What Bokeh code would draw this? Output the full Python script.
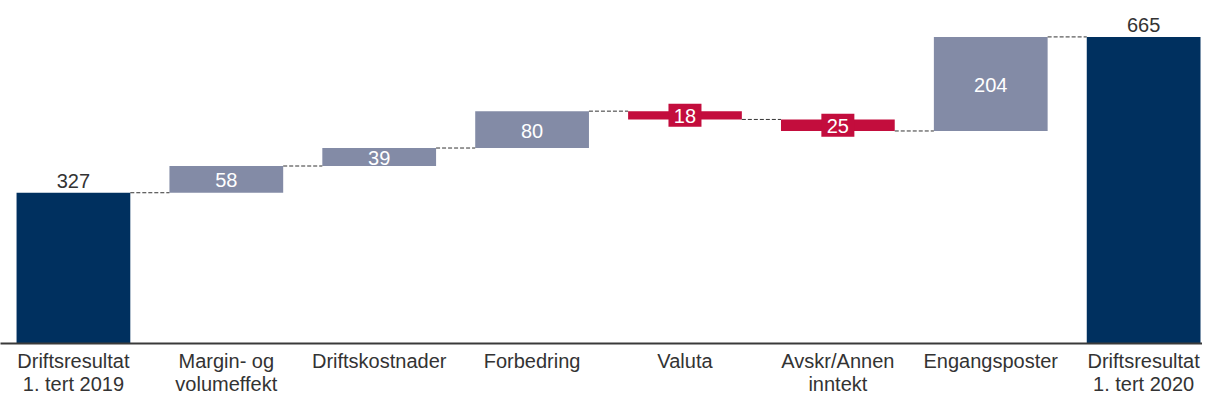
from bokeh.plotting import figure
from bokeh.models import ColumnDataSource, Range1d, FixedTicker
from bokeh.core.properties import value
from bokeh.embed import file_html
from bokeh.resources import INLINE

# ---- data ----
categories = ["Driftsresultat\n1. tert 2019", "Margin- og\nvolumeffekt", "Driftskostnader",
              "Forbedring", "Valuta", "Avskr/Annen\ninntekt", "Engangsposter",
              "Driftsresultat\n1. tert 2020"]
values = [327, 58, 39, 80, -18, -25, 204, 665]
kinds = ["total", "delta", "delta", "delta", "delta", "delta", "delta", "total"]

NAVY = "#00305f"
GREY = "#838ba6"
RED = "#c30d3d"
TXT = "#333333"
FONT = "Liberation Sans"

# ---- waterfall geometry from values ----
xs, bottoms, tops, colors, ends = [], [], [], [], []
running = 0
for i, (v, k) in enumerate(zip(values, kinds)):
    xs.append(i)
    if k == "total":
        b, t = 0, v
        running = v
        c = NAVY
    else:
        start = running
        running = running + v
        b, t = min(start, running), max(start, running)
        c = GREY if v >= 0 else RED
    bottoms.append(b)
    tops.append(t)
    colors.append(c)
    ends.append(running)

BW = 0.744
p = figure(width=1202, height=397, output_backend="svg", toolbar_location=None,
           x_range=Range1d(-0.477, 7.385), y_range=Range1d(0, 744),
           min_border_left=0, min_border_right=0, min_border_top=0, min_border_bottom=0)
p.outline_line_color = None
p.xgrid.visible = False
p.ygrid.visible = False
p.yaxis.visible = False
p.background_fill_color = "white"
p.border_fill_color = "white"

src = ColumnDataSource(dict(x=xs, bottom=bottoms, top=tops, color=colors))
p.vbar(x="x", bottom="bottom", top="top", width=BW, fill_color="color",
       line_color=None, source=src)

# connectors
cx0, cx1, cy = [], [], []
for i in range(len(values) - 1):
    cx0.append(xs[i] + BW / 2)
    cx1.append(xs[i + 1] - BW / 2)
    cy.append(ends[i])
p.segment(x0=cx0, y0=cy, x1=cx1, y1=cy, line_color="#333333", line_width=1,
          line_dash="4 2")

# total labels above bars
tx = [xs[i] for i in range(len(values)) if kinds[i] == "total"]
ty = [tops[i] for i in range(len(values)) if kinds[i] == "total"]
tt = [str(values[i]) for i in range(len(values)) if kinds[i] == "total"]
p.text(x=tx, y=ty, text=tt, text_align="center", text_baseline="bottom", y_offset=-5,
       text_font=value(FONT), text_font_size="20px", text_color=TXT)

# delta labels inside
pos_idx = [i for i in range(len(values)) if kinds[i] == "delta" and values[i] >= 0]
neg_idx = [i for i in range(len(values)) if kinds[i] == "delta" and values[i] < 0]
p.rect(x=[xs[i] for i in neg_idx], y=[(bottoms[i] + tops[i]) / 2 for i in neg_idx],
       width=33, height=23, width_units="screen", height_units="screen",
       fill_color=RED, line_color=None)
di = pos_idx + neg_idx
p.text(x=[xs[i] for i in di], y=[(bottoms[i] + tops[i]) / 2 for i in di],
       text=[str(abs(values[i])) for i in di], text_align="center", text_baseline="middle",
       text_font=value(FONT), text_font_size="20px", text_color="white", y_offset=1)

# x axis
ax = p.xaxis[0]
ax.ticker = FixedTicker(ticks=list(range(len(categories))))
ax.major_label_overrides = {i: c for i, c in enumerate(categories)}
ax.major_tick_line_color = None
ax.minor_tick_line_color = None
ax.major_tick_out = 0
ax.major_tick_in = 0
ax.axis_line_color = "#3a3a3a"
ax.axis_line_width = 2
ax.major_label_text_font = FONT
ax.major_label_text_font_size = "20px"
ax.major_label_text_color = TXT
ax.major_label_text_line_height = 1.05
ax.major_label_standoff = 6

open("out.html", "w").write(file_html(p, INLINE))
